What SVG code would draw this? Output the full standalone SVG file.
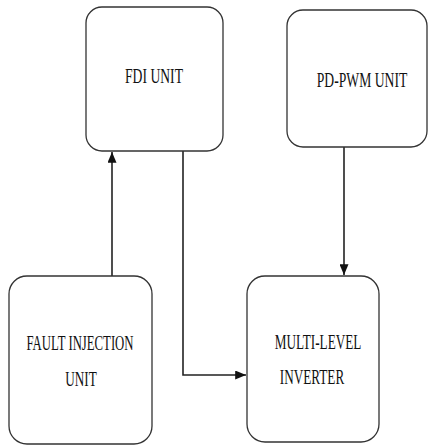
<svg xmlns="http://www.w3.org/2000/svg" width="428" height="446" viewBox="0 0 428 446">
<style>
.box{fill:#fff;stroke:#333;stroke-width:1.3}
.lbl{font-family:"Liberation Serif","Times New Roman",serif;font-size:22px;fill:#111;text-anchor:middle}
.con{fill:none;stroke:#222;stroke-width:1.6}
</style>
<defs>
<marker id="ah" viewBox="0 0 12 10" refX="12" refY="5" markerWidth="12" markerHeight="9" orient="auto" markerUnits="userSpaceOnUse">
<path d="M0,0 L12,5 L0,10 Z" fill="#111"/>
</marker>
</defs>
<rect width="428" height="446" fill="#fff"/>
<g id="connectors">
<line class="con" x1="112" y1="276" x2="112" y2="152" marker-end="url(#ah)"/>
<polyline class="con" points="183,151 183,375 246,375" stroke-width="2.2" marker-end="url(#ah)"/>
<line class="con" x1="344" y1="147" x2="344" y2="275" marker-end="url(#ah)"/>
</g>
<g id="fdi">
<rect class="box" x="86" y="7" width="137" height="144" rx="16"/>
<text class="lbl" transform="translate(154,83) scale(0.62,1)">FDI UNIT</text>
</g>
<g id="pdpwm">
<rect class="box" x="287" y="10" width="140" height="137" rx="16"/>
<text class="lbl" transform="translate(362,87) scale(0.62,1)">PD-PWM UNIT</text>
</g>
<g id="fault">
<rect class="box" x="9" y="276" width="143" height="168" rx="18"/>
<text class="lbl" transform="translate(80,350) scale(0.58,1)">FAULT INJECTION</text>
<text class="lbl" transform="translate(81,386) scale(0.6,1)">UNIT</text>
</g>
<g id="mli">
<rect class="box" x="247" y="276" width="132" height="166" rx="18"/>
<text class="lbl" transform="translate(318,349) scale(0.6,1)">MULTI-LEVEL</text>
<text class="lbl" transform="translate(312,384) scale(0.6,1)">INVERTER</text>
</g>
</svg>
